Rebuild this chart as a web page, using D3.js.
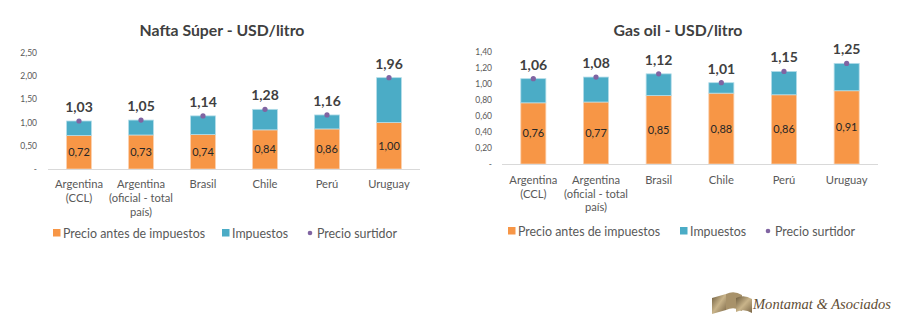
<!DOCTYPE html>
<html>
<head>
<meta charset="utf-8">
<script src="https://cdn.jsdelivr.net/npm/d3@7"></script>
<style>
  html, body { margin: 0; padding: 0; background: #fff; }
  svg { display: block; font-family: Lato, "Open Sans", sans-serif; }
</style>
</head>
<body>
<svg id="chart" width="900" height="322"></svg>
<script>
// ---------- DATA ----------
const categories = ["Argentina\n(CCL)", "Argentina\n(oficial - total\npaís)", "Brasil", "Chile", "Perú", "Uruguay"];

const naftaTitle = "Nafta Súper - USD/litro";
const naftaPreTax = [0.72, 0.73, 0.74, 0.84, 0.86, 1.00];
const naftaTotal  = [1.03, 1.05, 1.14, 1.28, 1.16, 1.96];
const naftaTicks  = [0, 0.5, 1.0, 1.5, 2.0, 2.5];

const gasoilTitle = "Gas oil - USD/litro";
const gasoilPreTax = [0.76, 0.77, 0.85, 0.88, 0.86, 0.91];
const gasoilTotal  = [1.06, 1.08, 1.12, 1.01, 1.15, 1.25];
const gasoilTicks  = [0, 0.2, 0.4, 0.6, 0.8, 1.0, 1.2, 1.4];

const legendLabels = ["Precio antes de impuestos", "Impuestos", "Precio surtidor"];
const logoText = "Montamat & Asociados";

// ---------- STYLE ----------
const C_ORANGE = "#F79646", C_TEAL = "#4BACC6", C_DOT = "#8064A2";
const fmt = v => v.toFixed(2).replace(".", ",");

const svg = d3.select("#chart");

function drawChart(o) {
  const g = svg.append("g");
  const x = d3.scaleBand().domain(categories).range([o.x0, o.x1]).paddingInner(0.6).paddingOuter(0.3);
  const y = d3.scaleLinear().domain([0, o.max]).range([o.base, o.base - o.max * o.ppu]);

  // title
  g.append("text").attr("x", o.titleX).attr("y", 36).attr("text-anchor", "middle")
    .attr("font-size", 15.8).attr("font-weight", "bold").attr("fill", "#404040").text(o.title);

  // y axis (labels only)
  const ya = d3.axisLeft(y).tickValues(o.ticks).tickSize(0).tickPadding(0)
    .tickFormat(v => v === 0 ? "-" : fmt(v));
  const yg = g.append("g").attr("transform", `translate(${o.tickX},0)`).call(ya);
  yg.select(".domain").remove();
  yg.selectAll("text").attr("font-size", 8.5).attr("fill", "#595959").attr("font-family", "Lato, sans-serif");

  // bars
  const bw = x.bandwidth();
  g.selectAll(".pre").data(categories).join("rect")
    .attr("x", d => x(d)).attr("width", bw)
    .attr("y", (d, i) => y(o.pre[i])).attr("height", (d, i) => y(0) - y(o.pre[i]))
    .attr("fill", C_ORANGE).attr("stroke", "#fbd0ae").attr("stroke-width", 0.8);
  g.selectAll(".tax").data(categories).join("rect")
    .attr("x", d => x(d)).attr("width", bw)
    .attr("y", (d, i) => y(o.total[i])).attr("height", (d, i) => y(o.pre[i]) - y(o.total[i]))
    .attr("fill", C_TEAL).attr("stroke", "#b3dde9").attr("stroke-width", 0.8);

  // x axis line
  g.append("line").attr("x1", o.x0).attr("x2", o.x1).attr("y1", y(0) + 0.5).attr("y2", y(0) + 0.5)
    .attr("stroke", "#d9d9d9").attr("stroke-width", 1);

  // dots
  g.selectAll(".dot").data(categories).join("circle")
    .attr("cx", d => x(d) + bw / 2).attr("cy", (d, i) => y(o.total[i])).attr("r", 2.6).attr("fill", C_DOT);

  // labels inside orange
  g.selectAll(".inl").data(categories).join("text")
    .attr("x", d => x(d) + bw / 2).attr("y", (d, i) => (y(0) + y(o.pre[i])) / 2 + 4)
    .attr("text-anchor", "middle").attr("font-size", 11).attr("fill", "#262626")
    .text((d, i) => fmt(o.pre[i]));

  // total labels
  g.selectAll(".tot").data(categories).join("text")
    .attr("x", d => x(d) + bw / 2).attr("y", (d, i) => y(o.total[i]) - 9)
    .attr("text-anchor", "middle").attr("font-size", 14).attr("font-weight", "bold").attr("fill", "#404040")
    .text((d, i) => fmt(o.total[i]));

  // category labels
  categories.forEach(c => {
    const t = g.append("text").attr("x", x(c) + bw / 2).attr("y", o.catY)
      .attr("text-anchor", "middle").attr("font-size", 11.2).attr("fill", "#595959");
    c.split("\n").forEach((ln, k) => t.append("tspan").attr("x", x(c) + bw / 2).attr("dy", k === 0 ? 0 : o.lineH).text(ln));
  });

  // legend
  const lg = g.append("g").attr("transform", `translate(0,${o.legY})`);
  lg.append("rect").attr("x", o.leg[0]).attr("y", -4).attr("width", 7.5).attr("height", 7.5).attr("fill", C_ORANGE);
  lg.append("text").attr("x", o.leg[0] + 10).attr("y", 4.5).attr("font-size", 12.4).attr("fill", "#595959").text(legendLabels[0]);
  lg.append("rect").attr("x", o.leg[1]).attr("y", -4).attr("width", 7.5).attr("height", 7.5).attr("fill", C_TEAL);
  lg.append("text").attr("x", o.leg[1] + 10).attr("y", 4.5).attr("font-size", 12.4).attr("fill", "#595959").text(legendLabels[1]);
  lg.append("circle").attr("cx", o.leg[2] + 3).attr("cy", 0).attr("r", 2.3).attr("fill", C_DOT);
  lg.append("text").attr("x", o.leg[2] + 10).attr("y", 4.5).attr("font-size", 12.4).attr("fill", "#595959").text(legendLabels[2]);
}

drawChart({
  title: naftaTitle, titleX: 222, pre: naftaPreTax, total: naftaTotal, ticks: naftaTicks,
  max: 2.5, ppu: 46.6, base: 169, x0: 48, x1: 420, tickX: 37,
  catY: 187.5, lineH: 14, legY: 233, leg: [53, 222, 307]
});
drawChart({
  title: gasoilTitle, titleX: 678, pre: gasoilPreTax, total: gasoilTotal, ticks: gasoilTicks,
  max: 1.4, ppu: 80.5, base: 164, x0: 502, x1: 878, tickX: 492,
  catY: 184, lineH: 13.7, legY: 231, leg: [508, 680, 765]
});

// ---------- LOGO ----------
const grad = svg.append("defs").append("linearGradient").attr("id", "gold").attr("x1", 0).attr("x2", 1).attr("y1", 0).attr("y2", 1);
grad.append("stop").attr("offset", "0").attr("stop-color", "#6b5a3c");
grad.append("stop").attr("offset", "0.5").attr("stop-color", "#c9b48a");
grad.append("stop").attr("offset", "1").attr("stop-color", "#7a6646");
const logo = svg.append("g").attr("transform", "translate(712,292)");
logo.append("path").attr("d", "M0,6 L14,2 L14,18 L0,22 Z").attr("fill", "url(#gold)");
logo.append("path").attr("d", "M14,2 Q22,-2 30,3 L30,19 Q22,14 14,18 Z").attr("fill", "#a8926a");
logo.append("path").attr("d", "M24,6 Q32,2 40,7 L40,21 Q32,16 24,20 Z").attr("fill", "url(#gold)");
svg.append("text").attr("x", 753).attr("y", 309).attr("font-family", "'Liberation Serif', serif")
  .attr("font-style", "italic").attr("font-size", 14).attr("fill", "#5f4e35")
  .attr("textLength", 138).attr("lengthAdjust", "spacingAndGlyphs").text(logoText);
</script>
</body>
</html>
